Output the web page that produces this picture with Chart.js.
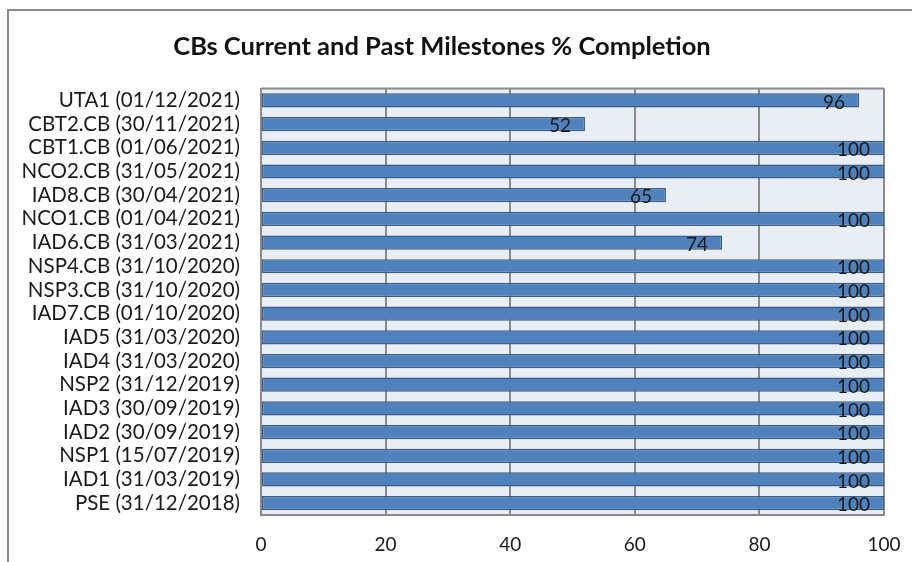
<!DOCTYPE html>
<html>
<head>
<meta charset="utf-8">
<script src="https://cdn.jsdelivr.net/npm/chart.js@4"></script>
<style>
html,body{margin:0;padding:0;background:#fff;}
#wrap{position:relative;width:912px;height:562px;overflow:hidden;}
#frame{position:absolute;left:7px;top:9px;width:1000px;height:700px;border-left:2px solid #8a8a8a;border-top:2px solid #8a8a8a;}
canvas{position:absolute;left:0;top:0;}
</style>
</head>
<body>
<div id="wrap">
<div id="frame"></div>
<canvas id="c" width="912" height="562"></canvas>
</div>
<script>
const categories = [
  "UTA1 (01/12/2021)", "CBT2.CB (30/11/2021)", "CBT1.CB (01/06/2021)", "NCO2.CB (31/05/2021)",
  "IAD8.CB (30/04/2021)", "NCO1.CB (01/04/2021)", "IAD6.CB (31/03/2021)", "NSP4.CB (31/10/2020)",
  "NSP3.CB (31/10/2020)", "IAD7.CB (01/10/2020)", "IAD5 (31/03/2020)", "IAD4 (31/03/2020)",
  "NSP2 (31/12/2019)", "IAD3 (30/09/2019)", "IAD2 (30/09/2019)", "NSP1 (15/07/2019)",
  "IAD1 (31/03/2019)", "PSE (31/12/2018)"
];
const completion = [96, 52, 100, 100, 65, 100, 74, 100, 100, 100, 100, 100, 100, 100, 100, 100, 100, 100];
const xTicks = [0, 20, 40, 60, 80, 100];
const chartTitle = "CBs Current and Past Milestones % Completion";

const FONT = "Lato, 'Open Sans', sans-serif";

const plotFrame = {
  id: 'plotFrame',
  beforeDraw(chart) {
    const {ctx, chartArea: a} = chart;
    ctx.save();
    ctx.fillStyle = '#e9edf4';
    ctx.fillRect(a.left, a.top, a.right - a.left, a.bottom - a.top);
    ctx.restore();
  },
  afterDraw(chart) {
    const {ctx, chartArea: a} = chart;
    ctx.save();
    ctx.strokeStyle = '#8a8a8a';
    ctx.lineWidth = 2;
    ctx.beginPath();
    ctx.moveTo(a.left, a.top); ctx.lineTo(a.right, a.top);
    ctx.stroke();
    ctx.restore();
  }
};

const valueLabels = {
  id: 'valueLabels',
  afterDatasetsDraw(chart) {
    const {ctx} = chart;
    const meta = chart.getDatasetMeta(0);
    ctx.save();
    ctx.font = '19px ' + FONT;
    ctx.fillStyle = '#1a1a1a';
    ctx.textAlign = 'right';
    ctx.textBaseline = 'middle';
    meta.data.forEach((bar, i) => {
      ctx.fillText(String(chart.data.datasets[0].data[i]), bar.x - 14, bar.y + 2);
    });
    ctx.restore();
  }
};

new Chart(document.getElementById('c'), {
  type: 'bar',
  data: {
    labels: categories,
    datasets: [{
      data: completion,
      backgroundColor: '#4f81bd',
      borderColor: '#385d8a',
      borderWidth: 1.5,
      borderSkipped: false,
      categoryPercentage: 0.6,
      barPercentage: 1.0
    }]
  },
  options: {
    indexAxis: 'y',
    responsive: false,
    animation: false,
    devicePixelRatio: 1,
    layout: { padding: { left: 0, right: 28, top: 0, bottom: 0 } },
    plugins: {
      legend: { display: false },
      tooltip: { enabled: false },
      title: {
        display: true,
        text: chartTitle,
        color: '#111',
        font: { family: FONT, size: 25.5, weight: 'bold' },
        padding: { top: 31, bottom: 27 }
      }
    },
    scales: {
      x: {
        min: 0, max: 100,
        afterBuildTicks(scale) { scale.ticks = xTicks.map(v => ({value: v})); },
        afterFit(scale) { scale.height = 47; scale.paddingRight = 0; scale.paddingLeft = 0; },
        grid: { color: '#8a8a8a', lineWidth: 2, drawTicks: false },
        border: { display: true, color: '#8a8a8a', width: 2 },
        ticks: { color: '#1a1a1a', font: { family: FONT, size: 19 }, padding: 18, maxRotation: 0 }
      },
      y: {
        afterFit(scale) { scale.width = 261; },
        grid: { display: false, drawTicks: false },
        border: { display: true, color: '#8a8a8a', width: 2 },
        ticks: { color: '#1a1a1a', font: { family: FONT, size: 20.5 }, padding: 21, autoSkip: false }
      }
    }
  },
  plugins: [plotFrame, valueLabels]
});
</script>
</body>
</html>
